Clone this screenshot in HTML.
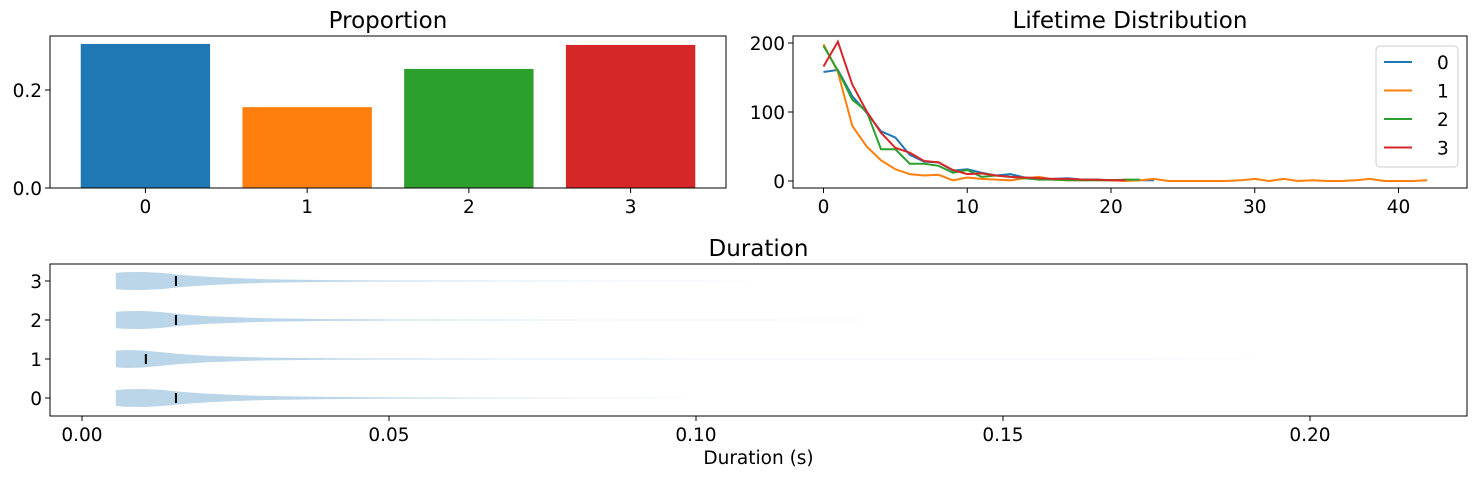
<!DOCTYPE html>
<html><head><meta charset="utf-8"><style>
html,body{margin:0;padding:0;background:#fff;}
svg{display:block;font-family:"DejaVu Sans","Liberation Sans",sans-serif;}
</style></head><body>
<svg id="fig" width="1478" height="478" viewBox="0 0 1478 478"></svg>
<script>
// ---- Proportion data ----
const propCats = ['0','1','2','3'];
const propVals = [0.294, 0.165, 0.243, 0.292];
const propYTicks = [0.0, 0.2];
const colors = ['#1f77b4','#ff7f0e','#2ca02c','#d62728'];
// ---- Lifetime data ----
const life0 = [158,161,123,99,72,63,38,28,27,15,17,12,8,10,5,2,3,4,2,2,1,1,1,1];
const life1 = [198,158,80,50,30,17,10,8,9,1,5,3,2,1,4,6,2,1,1,1,1,0,1,3,0,0,0,0,0,1,3,0,3,0,1,0,0,1,3,0,0,0,1];
const life2 = [196,160,118,101,46,46,25,25,22,12,16,6,8,6,4,2,2,1,1,1,1,2,2];
const life3 = [166,202,140,101,70,48,41,29,27,16,10,11,8,6,5,4,3,3,2,2,1,1];
const lifeXTicks = [0,10,20,30,40];
const lifeYTicks = [0,100,200];
// ---- Duration violin data ----
const durCats = ['0','1','2','3'];
const durMedians = [0.0153, 0.0104, 0.0153, 0.0153];
const durGrid = [0.0055,0.007,0.010,0.013,0.016,0.020,0.025,0.030,0.040,0.050,0.070,0.100,0.150,0.220];
const durDens0 = [0.88,0.97,1.0,0.9,0.7,0.5,0.33,0.22,0.12,0.07,0.03,0.005,0,0];
const durDens1 = [0.92,1.0,0.95,0.75,0.55,0.38,0.25,0.15,0.08,0.05,0.03,0.02,0.01,0.003];
const durDens2 = [0.9,0.98,1.0,0.88,0.65,0.45,0.3,0.19,0.1,0.06,0.03,0.01,0.002,0];
const durDens3 = [0.9,0.98,1.0,0.9,0.68,0.48,0.32,0.2,0.1,0.05,0.025,0.008,0,0];
const durXTicks = [0.00,0.05,0.10,0.15,0.20];

const NS='http://www.w3.org/2000/svg';
const svg=document.getElementById('fig');
const TS=18.5, TT=23;
function mk(tag,attrs,parent){const e=document.createElementNS(NS,tag);for(const k in attrs)e.setAttribute(k,attrs[k]);(parent||svg).appendChild(e);return e;}
function txt(s,x,y,size,anchor,parent){const t=mk('text',{x:x,y:y,'font-size':size,'text-anchor':anchor||'middle',fill:'#000'},parent);t.textContent=s;return t;}

// ===== Proportion =====
{
const L=50,R=726,T=36,B=188;
const g=mk('g',{});


const xs=v=>L+(v+0.59)/4.18*(R-L);
const ys=v=>B-v*490;
propVals.forEach((v,i)=>{
 const r=mk('rect',{x:xs(i-0.4),y:ys(v),width:xs(0.4)-xs(-0.4),height:B-ys(v),fill:colors[i]},g);
 
 
});
mk('rect',{x:L,y:T,width:R-L,height:B-T,fill:'none',stroke:'#000','stroke-width':1},g);
propCats.forEach((c,i)=>{const x=xs(i);mk('line',{x1:x,x2:x,y1:B,y2:B+5,stroke:'#000'},g);const t=txt(c,x,B+25,TS,'middle',g);});
propYTicks.forEach(v=>{const y=ys(v);mk('line',{x1:L-5,x2:L,y1:y,y2:y,stroke:'#000'},g);const t=txt(v.toFixed(1),L-8,y+7,TS,'end',g);});
const tt=txt('Proportion',(L+R)/2,28,TT,'middle',g);


}

// ===== Lifetime =====
{
const L=793,R=1467,T=36,B=188;
const g=mk('g',{});


const xs=v=>823.5+v*14.375;
const ys=v=>181-v*0.69;
[life0,life1,life2,life3].forEach((arr,k)=>{
 const p=mk('polyline',{points:arr.map((v,i)=>xs(i)+','+ys(v)).join(' '),fill:'none',stroke:colors[k],'stroke-width':2},g);
 
 
});
mk('rect',{x:L,y:T,width:R-L,height:B-T,fill:'none',stroke:'#000'},g);
lifeXTicks.forEach(v=>{const x=xs(v);mk('line',{x1:x,x2:x,y1:B,y2:B+5,stroke:'#000'},g);const t=txt(String(v),x,B+25,TS,'middle',g);});
lifeYTicks.forEach(v=>{const y=ys(v);mk('line',{x1:L-5,x2:L,y1:y,y2:y,stroke:'#000'},g);const t=txt(String(v),L-8,y+7,TS,'end',g);});
const tt=txt('Lifetime Distribution',(L+R)/2,28,TT,'middle',g);


const lg=mk('g',{},g);


mk('rect',{x:1376,y:46,width:82,height:121,rx:4,fill:'#fff','fill-opacity':0.8,stroke:'#ccc'},lg);
['0','1','2','3'].forEach((s,i)=>{
 const y=62+i*28.5;
 const e=mk('g',{},lg);
 
 
 mk('line',{x1:1384,x2:1412,y1:y,y2:y,stroke:colors[i],'stroke-width':2},e);
 txt(s,1437,y+7,TS,'start',e);
});
}

// ===== Duration =====
{
const L=50,R=1467,T=264,B=416;
const g=mk('g',{});


const xs=v=>82+v*6140;
const ys=c=>398-c*39;
const halfMax=9;
[durDens0,durDens1,durDens2,durDens3].forEach((d,k)=>{
 const yc=ys(k);
 const top=durGrid.map((x,i)=>xs(x)+','+(yc-d[i]*halfMax));
 const bot=durGrid.map((x,i)=>xs(x)+','+(yc+d[i]*halfMax)).reverse();
 const p=mk('polygon',{points:top.concat(bot).join(' '),fill:'#1f77b4','fill-opacity':0.3,stroke:'none'},g);
 
 
 const mx=xs(durMedians[k]);
 const m=mk('line',{x1:mx,x2:mx,y1:yc-5,y2:yc+5,stroke:'#000','stroke-width':2},g);
 
 
});
mk('rect',{x:L,y:T,width:R-L,height:B-T,fill:'none',stroke:'#000'},g);
durXTicks.forEach(v=>{const x=xs(v);mk('line',{x1:x,x2:x,y1:B,y2:B+5,stroke:'#000'},g);const t=txt(v.toFixed(2),x,B+25,TS,'middle',g);});
durCats.forEach((c,k)=>{const y=ys(k);mk('line',{x1:L-5,x2:L,y1:y,y2:y,stroke:'#000'},g);const t=txt(c,L-8,y+7,TS,'end',g);});
const tt=txt('Duration',(L+R)/2,256,TT,'middle',g);


const xt=txt('Duration (s)',(L+R)/2,464,TS,'middle',g);


}
</script>
</body></html>
